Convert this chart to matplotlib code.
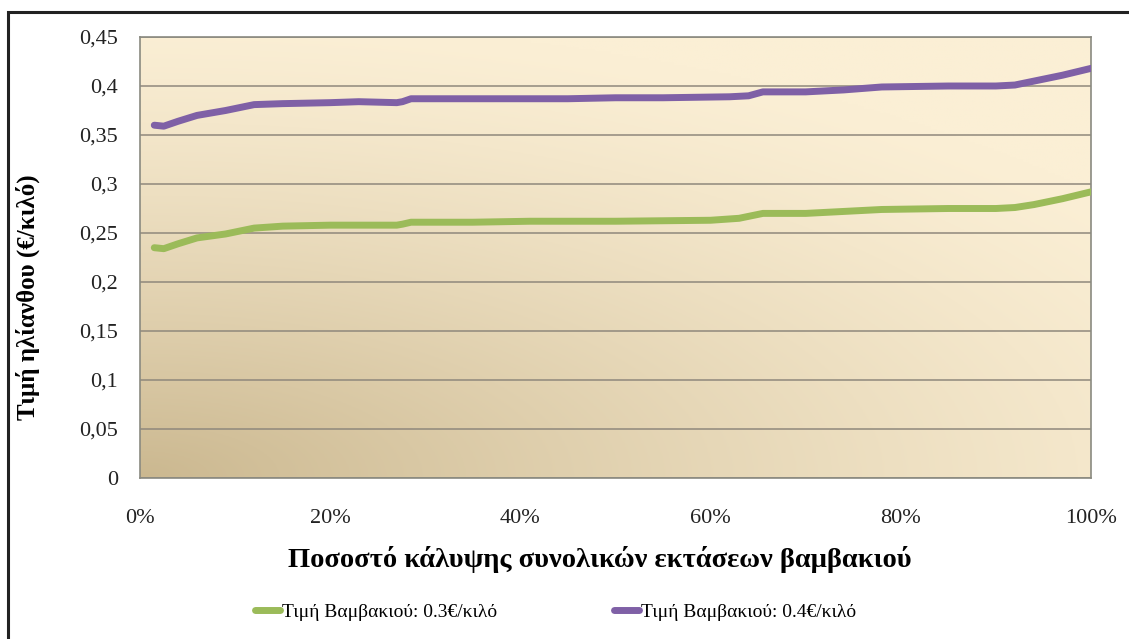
import numpy as np
import matplotlib
matplotlib.use("Agg")
import matplotlib.pyplot as plt
from matplotlib.patches import Rectangle

# values
x_purple = [0.015, 0.025, 0.04, 0.06, 0.09, 0.12, 0.15, 0.20, 0.23, 0.27, 0.276, 0.285,
            0.35, 0.45, 0.50, 0.55, 0.62, 0.64, 0.655, 0.70, 0.74, 0.78, 0.85, 0.90,
            0.92, 0.94, 0.97, 1.00]
y_purple = [0.360, 0.359, 0.364, 0.370, 0.375, 0.381, 0.382, 0.383, 0.384, 0.383, 0.384, 0.387,
            0.387, 0.387, 0.388, 0.388, 0.389, 0.390, 0.394, 0.394, 0.396, 0.399, 0.400, 0.400,
            0.401, 0.405, 0.411, 0.418]

x_green = [0.015, 0.025, 0.04, 0.06, 0.09, 0.12, 0.15, 0.20, 0.27, 0.276, 0.285, 0.35,
           0.41, 0.50, 0.60, 0.63, 0.655, 0.70, 0.74, 0.78, 0.85, 0.90, 0.92, 0.94,
           0.97, 1.00]
y_green = [0.235, 0.234, 0.239, 0.245, 0.249, 0.255, 0.257, 0.258, 0.258, 0.259, 0.261, 0.261,
           0.262, 0.262, 0.263, 0.265, 0.270, 0.270, 0.272, 0.274, 0.275, 0.275, 0.276, 0.279,
           0.285, 0.292]

y_ticks = [0, 0.05, 0.1, 0.15, 0.2, 0.25, 0.3, 0.35, 0.4, 0.45]
y_ticklabels = ["0", "0,05", "0,1", "0,15", "0,2", "0,25", "0,3", "0,35", "0,4", "0,45"]
x_ticks = [0, 0.2, 0.4, 0.6, 0.8, 1.0]
x_ticklabels = ["0%", "20%", "40%", "60%", "80%", "100%"]

label_green = "Τιμή Βαμβακιού: 0.3€/κιλό"
label_purple = "Τιμή Βαμβακιού: 0.4€/κιλό"

plt.rcParams['font.family'] = ['Liberation Serif', 'DejaVu Serif']

fig = plt.figure(figsize=(11.29, 6.39), dpi=100)
fig.patch.set_facecolor('white')

# outer chart border (right/bottom run off the picture)
fig.patches.append(Rectangle((8 / 1129, -0.05), 1.2, 1 - 12 / 639 + 0.05,
                             transform=fig.transFigure, fill=False,
                             edgecolor='#222222', linewidth=2.2))

ax = fig.add_axes([140 / 1129, 1 - 478 / 639, (1091 - 140) / 1129, (478 - 37) / 639])

# gradient fill: darker tan at bottom-left, light cream toward top-right
gx, gy = np.meshgrid(np.linspace(0, 1, 300), np.linspace(0, 1, 200))
d = np.clip(1 - np.sqrt((gx * 0.9) ** 2 + (gy * 1.1) ** 2) / 1.15, 0, 1) ** 1.3
light = np.array([251, 239, 213]) / 255
dark = np.array([203, 184, 144]) / 255
img = light[None, None, :] * (1 - d[..., None]) + dark[None, None, :] * d[..., None]
ax.imshow(img, extent=[0, 1, 0, 1], transform=ax.transAxes, origin='lower',
          aspect='auto', zorder=0)

ax.set_xlim(0, 1)
ax.set_ylim(0, 0.45)
ax.set_yticks(y_ticks)
ax.set_yticklabels(y_ticklabels)
ax.set_xticks(x_ticks)
ax.set_xticklabels(x_ticklabels)
ax.tick_params(length=0, labelsize=16, colors='#222222')
ax.tick_params(axis='y', pad=16)
ax.tick_params(axis='x', pad=22)

ax.yaxis.grid(True, color='#8f887c', linewidth=1.1, zorder=1)
ax.set_axisbelow(True)
for s in ax.spines.values():
    s.set_color('#8a8a80')
    s.set_linewidth(1.2)

ax.plot(x_green, y_green, color='#9bbb59', linewidth=5, solid_capstyle='round',
        label=label_green, zorder=3)
ax.plot(x_purple, y_purple, color='#7f60a6', linewidth=5, solid_capstyle='round',
        label=label_purple, zorder=3)

ax.set_xlabel("Ποσοστό κάλυψης συνολικών εκτάσεων βαμβακιού", fontsize=20.5,
              fontweight='bold')
ax.set_ylabel("Τιμή ηλίανθου (€/κιλό)", fontsize=18, fontweight='bold')
ax.xaxis.set_label_coords(0.484, -0.155)
ax.yaxis.set_label_coords(-0.105, 0.41)

fig.legend(loc='center', bbox_to_anchor=(0.492, 1 - 612 / 639), ncol=2, frameon=False,
           fontsize=14, handlelength=1.3, handletextpad=0.1, columnspacing=6)

fig.savefig("out.png", dpi=100)
